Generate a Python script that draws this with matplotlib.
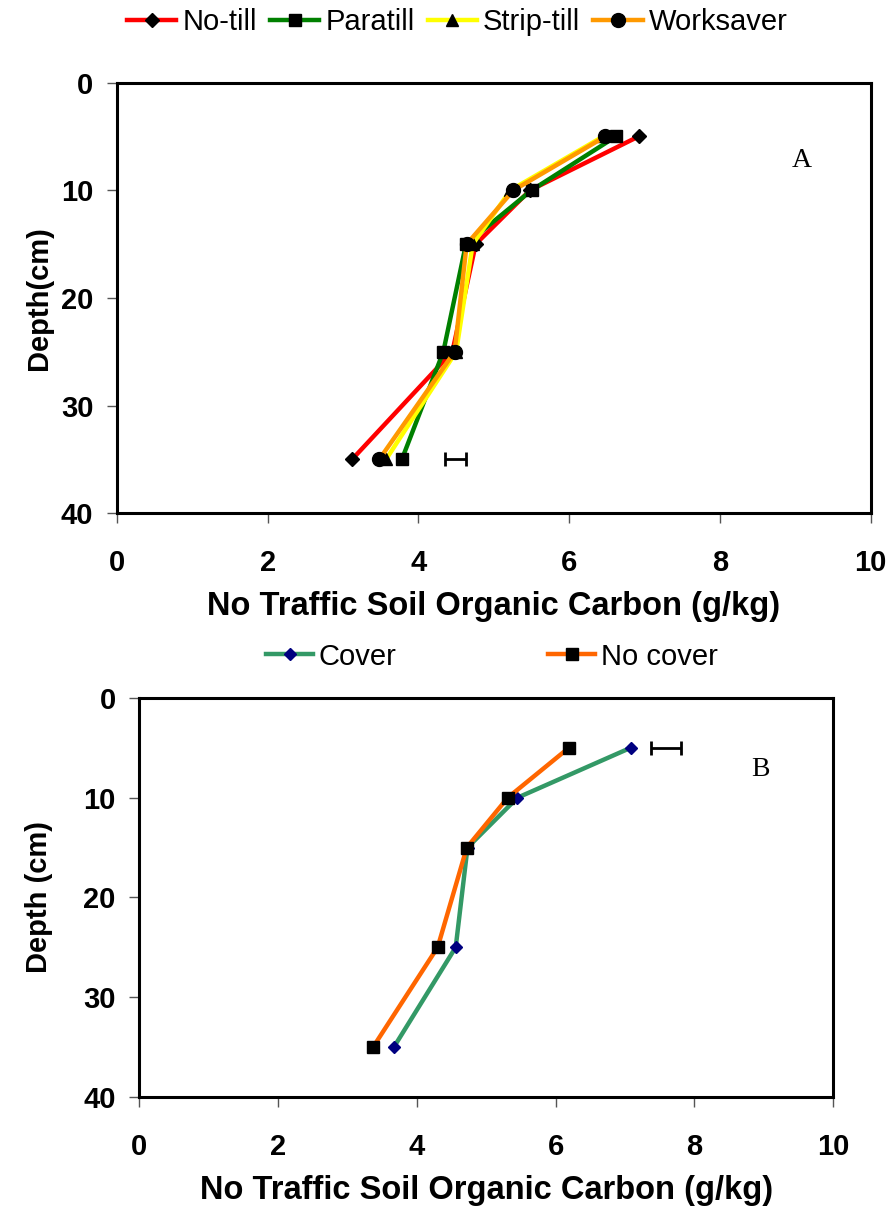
import matplotlib
matplotlib.use("Agg")
import matplotlib.pyplot as plt

plt.rcParams['font.family'] = ['Liberation Sans', 'DejaVu Sans']

# depth of each sample (cm)
depth = [5, 10, 15, 25, 35]

# panel A - tillage systems, SOC (g/kg)
tillage = ["No-till", "Paratill", "Strip-till", "Worksaver"]
no_till = [6.92, 5.48, 4.76, 4.45, 3.12]
paratill = [6.62, 5.50, 4.63, 4.33, 3.78]
strip_till = [6.45, 5.22, 4.72, 4.50, 3.57]
worksaver = [6.48, 5.26, 4.64, 4.48, 3.48]
lsd_a = (4.49, 35, 0.14)  # x, depth, half width

# panel B - cover crop
cover_names = ["Cover", "No cover"]
cover = [7.08, 5.45, 4.73, 4.56, 3.67]
no_cover = [6.19, 5.31, 4.72, 4.30, 3.37]
lsd_b = (7.59, 5, 0.21)

fig = plt.figure(figsize=(8.93, 12.16), dpi=100)

fs = 21


def style_axes(ax, ylab, ypad):
    ax.set_xlim(0, 10)
    ax.set_ylim(40, 0)
    ax.set_xticks([0, 2, 4, 6, 8, 10])
    ax.set_yticks([0, 10, 20, 30, 40])
    for s in ax.spines.values():
        s.set_linewidth(2.2)
    ax.tick_params(axis='x', direction='out', length=7, width=1, pad=19,
                   labelsize=fs, color='#555555')
    ax.tick_params(axis='y', direction='out', length=7, width=1, pad=10,
                   labelsize=fs, color='#555555')
    for lab in ax.get_xticklabels() + ax.get_yticklabels():
        lab.set_fontweight('bold')
    ax.set_xlabel("No Traffic Soil Organic Carbon (g/kg)", fontsize=23.5,
                  fontweight='bold', labelpad=10)
    ax.set_ylabel(ylab, fontsize=fs, fontweight='bold', labelpad=ypad)


# ---- panel A
axA = fig.add_axes([0.131, 0.578, 0.844, 0.354])
lw = 3.2
axA.plot(no_till, depth, color='#FF0000', lw=lw, marker='D', ms=7,
         mfc='black', mec='black', label=tillage[0])
axA.plot(paratill, depth, color='#008000', lw=lw, marker='s', ms=9,
         mfc='black', mec='black', label=tillage[1])
axA.plot(strip_till, depth, color='#FFFF00', lw=lw, marker='^', ms=9,
         mfc='black', mec='black', label=tillage[2])
axA.plot(worksaver, depth, color='#FF9900', lw=lw, marker='o', ms=10,
         mfc='black', mec='black', label=tillage[3])
axA.errorbar(lsd_a[0], lsd_a[1], xerr=lsd_a[2], fmt='none', ecolor='black',
             elinewidth=2, capsize=5, capthick=2)
axA.text(0.908, 0.82, "A", transform=axA.transAxes, fontsize=20,
         family='Liberation Serif', ha='center', va='center')
style_axes(axA, "Depth(cm)", 6)
axA.legend(loc='center', bbox_to_anchor=(0.512, 0.982),
           bbox_transform=fig.transFigure, ncol=4, frameon=False,
           fontsize=fs, handlelength=1.7, handletextpad=0.2,
           columnspacing=0.45, borderaxespad=0)

# ---- panel B
axB = fig.add_axes([0.156, 0.098, 0.777, 0.328])
axB.plot(cover, depth, color='#339966', lw=lw, marker='D', ms=6,
         mfc='#000080', mec='#000080', label=cover_names[0])
axB.plot(no_cover, depth, color='#FF6600', lw=lw, marker='s', ms=8,
         mfc='black', mec='black', label=cover_names[1])
axB.errorbar(lsd_b[0], lsd_b[1], xerr=lsd_b[2], fmt='none', ecolor='black',
             elinewidth=2, capsize=5, capthick=2)
axB.text(0.895, 0.82, "B", transform=axB.transAxes, fontsize=20,
         family='Liberation Serif', ha='center', va='center')
style_axes(axB, "Depth (cm)", 22)
axB.legend(loc='center', bbox_to_anchor=(0.551, 0.46),
           bbox_transform=fig.transFigure, ncol=2, frameon=False,
           fontsize=fs, handlelength=1.6, handletextpad=0.2,
           columnspacing=5.2, borderaxespad=0)

fig.savefig("out.png", dpi=100)
